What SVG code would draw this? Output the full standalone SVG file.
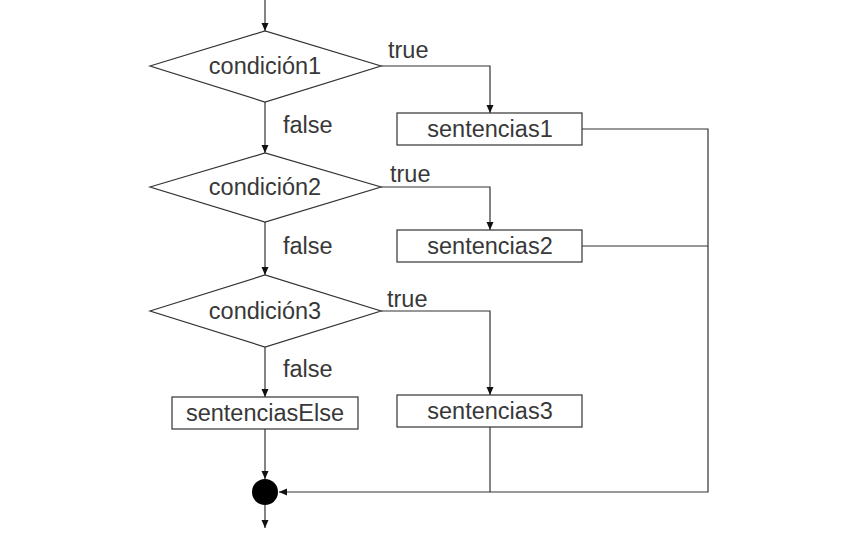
<svg xmlns="http://www.w3.org/2000/svg" width="863" height="547" viewBox="0 0 863 547">
<style>
  .shape { fill: #fff; stroke: #333; stroke-width: 1.2; }
  .line { fill: none; stroke: #333; stroke-width: 1.2; }
  text { font-family: "Liberation Sans", Arial, sans-serif; font-size: 23.5px; fill: #383838; }
  .c { text-anchor: middle; }
</style>
<defs>
  <marker id="arr" markerWidth="10" markerHeight="10" refX="9" refY="5" orient="auto" markerUnits="userSpaceOnUse">
    <path d="M1,1.5 L9,5 L1,8.5 Z" fill="#111"/>
  </marker>
</defs>
<rect width="863" height="547" fill="#fff"/>
<g id="connectors">
  <path class="line" d="M265,0 V31" marker-end="url(#arr)"/>
  <path class="line" d="M265,102 V153" marker-end="url(#arr)"/>
  <path class="line" d="M265,222 V275" marker-end="url(#arr)"/>
  <path class="line" d="M265,347 V397" marker-end="url(#arr)"/>
  <path class="line" d="M265,429 V479" marker-end="url(#arr)"/>
  <path class="line" d="M265,505 V528" marker-end="url(#arr)"/>
  <path class="line" d="M381,66 H490 V113" marker-end="url(#arr)"/>
  <path class="line" d="M381,187 H490 V230" marker-end="url(#arr)"/>
  <path class="line" d="M381,311 H490 V395" marker-end="url(#arr)"/>
  <path class="line" d="M582,129 H708 V492 H279" marker-end="url(#arr)"/>
  <path class="line" d="M582,246 H708"/>
  <path class="line" d="M490,427 V492"/>
  <text x="388" y="58">true</text>
  <text x="390" y="182">true</text>
  <text x="387" y="307">true</text>
  <text x="283" y="133">false</text>
  <text x="283" y="254">false</text>
  <text x="283" y="377">false</text>
</g>
<g id="cond1">
  <polygon class="shape" points="150,66 265,31 381,66 265,102"/>
  <text class="c" x="265" y="74">condición1</text>
</g>
<g id="cond2">
  <polygon class="shape" points="150,187 265,153 381,187 265,222"/>
  <text class="c" x="265" y="195">condición2</text>
</g>
<g id="cond3">
  <polygon class="shape" points="150,311 265,275 381,311 265,347"/>
  <text class="c" x="265" y="319">condición3</text>
</g>
<g id="sent1">
  <rect class="shape" x="397" y="113" width="185" height="32"/>
  <text class="c" x="490" y="137">sentencias1</text>
</g>
<g id="sent2">
  <rect class="shape" x="397" y="230" width="185" height="32"/>
  <text class="c" x="490" y="254">sentencias2</text>
</g>
<g id="sent3">
  <rect class="shape" x="397" y="395" width="185" height="32"/>
  <text class="c" x="490" y="419">sentencias3</text>
</g>
<g id="sentElse">
  <rect class="shape" x="172" y="397" width="186" height="32"/>
  <text class="c" x="265" y="421">sentenciasElse</text>
</g>
<g id="join">
  <circle cx="265" cy="492" r="13" fill="#000"/>
</g>
</svg>
